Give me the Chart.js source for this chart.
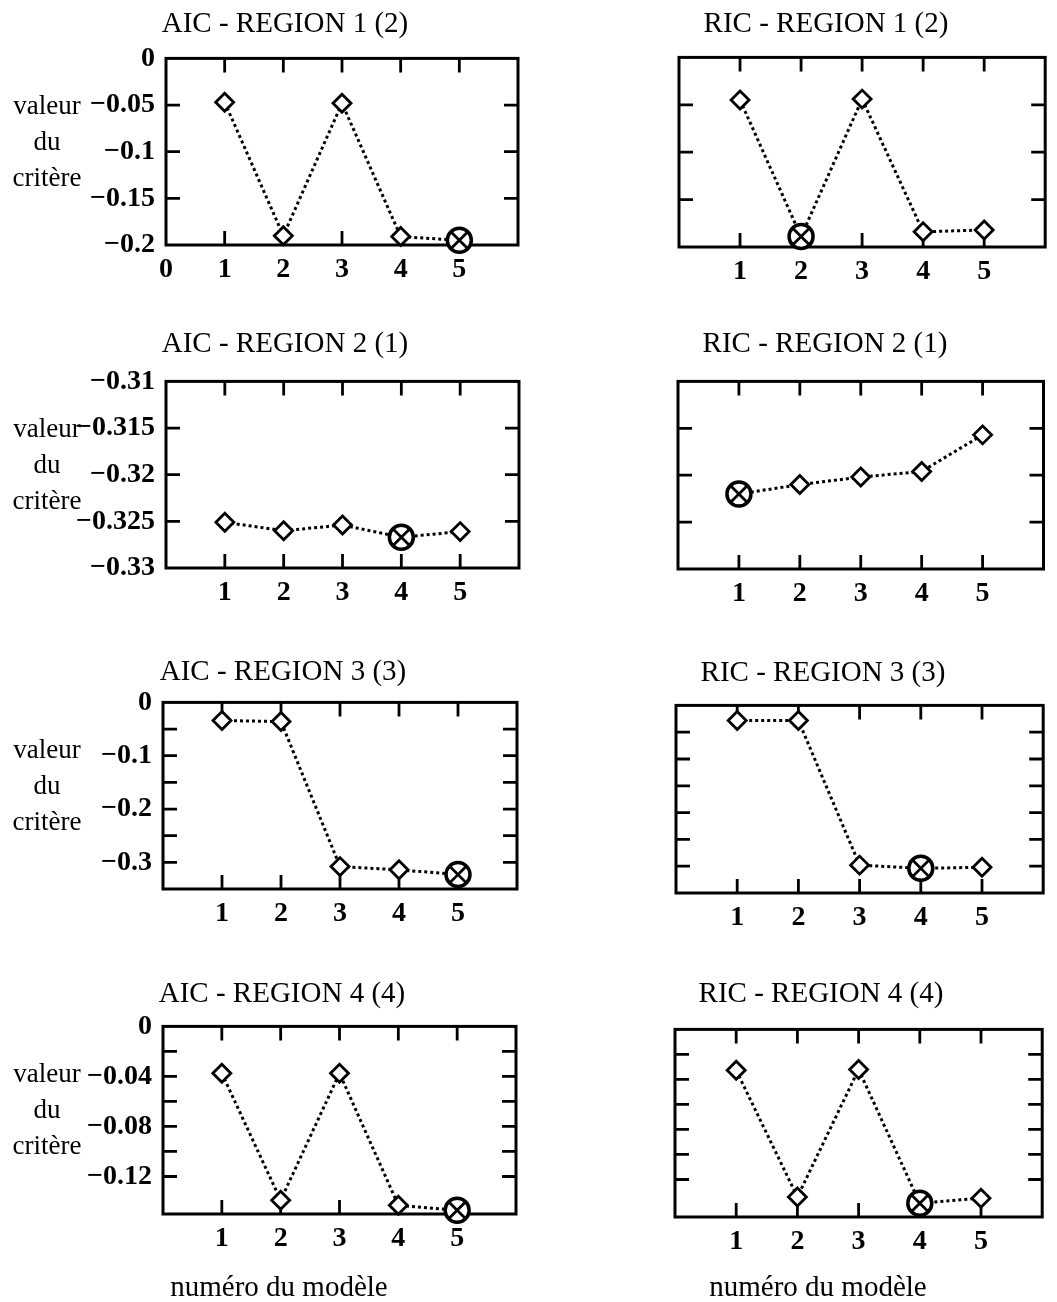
<!DOCTYPE html>
<html lang="fr">
<head>
<meta charset="utf-8">
<title>AIC / RIC par région</title>
<script src="https://cdn.jsdelivr.net/npm/chart.js@4.4.1/dist/chart.umd.min.js"></script>
<style>
  html, body { margin: 0; padding: 0; background: #fff; overflow: hidden; }
  body { position: relative; width: 1057px; height: 1302px; }
  canvas { position: absolute; display: block; }
</style>
</head>
<body>
<script>
// numéro du modèle (axe x)
const models = [1, 2, 3, 4, 5];
const xTickLabelsFirst = [0, 1, 2, 3, 4, 5];
const xTickLabels = [1, 2, 3, 4, 5];

// valeur du critère
const aicRegion1 = [-0.047, -0.190, -0.048, -0.191, -0.195];
const ricRegion1 = [-0.045, -0.189, -0.044, -0.184, -0.182];
const aicRegion2 = [-0.3251, -0.3260, -0.3254, -0.3267, -0.3261];
const ricRegion2 = [-0.3220, -0.3210, -0.3202, -0.3196, -0.3157];
const aicRegion3 = [-0.034, -0.036, -0.308, -0.314, -0.323];
const ricRegion3 = [-0.028, -0.028, -0.298, -0.304, -0.302];
const aicRegion4 = [-0.0375, -0.139, -0.0375, -0.143, -0.147];
const ricRegion4 = [-0.0327, -0.134, -0.032, -0.139, -0.135];

// étiquettes de l'axe y (les autres graduations restent sans texte)
const yLabelsRegion1 = [0, -0.05, -0.1, -0.15, -0.2];
const yLabelsRegion2 = [-0.31, -0.315, -0.32, -0.325, -0.33];
const yLabelsRegion3 = [0, -0.1, -0.2, -0.3];
const yLabelsRegion4 = [0, -0.04, -0.08, -0.12];

const sideLabel = ['valeur', 'du', 'critère'];
const xTitle = 'numéro du modèle';

const serif = '"Liberation Serif", "Times New Roman", serif';
Chart.defaults.font.family = serif;
Chart.defaults.color = '#000';

const fmt = v => String(Number(v.toFixed(4))).replace('-', '\u2212');
const has = (list, v) => list.some(l => Math.abs(l - v) < 1e-9);

// cadre fermé + graduations tournées vers l'intérieur, textes annexes
const framePlugin = {
    id: 'frame',
    beforeDatasetsDraw(chart) {
        const { ctx, chartArea: a, scales: { x, y } } = chart;
        const tick = 14;
        ctx.save();
        ctx.strokeStyle = '#000';
        ctx.lineWidth = 2.8;
        ctx.beginPath();
        x.ticks.forEach(t => {
            const px = x.getPixelForValue(t.value);
            if (px < a.left + 2 || px > a.right - 2) return;
            ctx.moveTo(px, a.top); ctx.lineTo(px, a.top + tick);
            ctx.moveTo(px, a.bottom); ctx.lineTo(px, a.bottom - tick);
        });
        y.ticks.forEach(t => {
            const py = y.getPixelForValue(t.value);
            if (py < a.top + 2 || py > a.bottom - 2) return;
            ctx.moveTo(a.left, py); ctx.lineTo(a.left + tick, py);
            ctx.moveTo(a.right, py); ctx.lineTo(a.right - tick, py);
        });
        ctx.stroke();
        ctx.lineWidth = 3;
        ctx.strokeRect(a.left, a.top, a.right - a.left, a.bottom - a.top);
        ctx.restore();
    },
    afterDraw(chart, args, opts) {
        const { ctx, chartArea: a } = chart;
        ctx.save();
        ctx.fillStyle = '#000';
        ctx.textAlign = 'center';
        ctx.textBaseline = 'middle';
        if (opts.side) {
            ctx.font = '27px ' + serif;
            [49, 85, 121].forEach((dy, i) => ctx.fillText(sideLabel[i], opts.sideX, a.top + dy));
        }
        if (opts.xTitle) {
            ctx.font = '29px ' + serif;
            ctx.fillText(opts.xTitle, opts.xTitleX, opts.xTitleY);
        }
        ctx.restore();
    }
};

const panels = [
    { title: 'AIC - REGION 1 (2)', values: aicRegion1, y: [-0.2, 0, 0.05], yLabels: yLabelsRegion1, xLabels: xTickLabelsFirst, side: true,
      box: { tc: 285, titleY: 24, left: 166, right: 518, top: 58, bottom: 245 } },
    { title: 'RIC - REGION 1 (2)', values: ricRegion1, y: [-0.2, 0, 0.05], yLabels: null, xLabels: xTickLabels, side: false,
      box: { tc: 826, titleY: 24, left: 679, right: 1056, top: 57, bottom: 247 } },
    { title: 'AIC - REGION 2 (1)', values: aicRegion2, y: [-0.33, -0.31, 0.005], yLabels: yLabelsRegion2, xLabels: xTickLabels, side: true,
      box: { tc: 285, titleY: 344, left: 166, right: 519, top: 381, bottom: 568 } },
    { title: 'RIC - REGION 2 (1)', values: ricRegion2, y: [-0.33, -0.31, 0.005], yLabels: null, xLabels: xTickLabels, side: false,
      box: { tc: 825, titleY: 344, left: 678, right: 1056, top: 381, bottom: 569 } },
    { title: 'AIC - REGION 3 (3)', values: aicRegion3, y: [-0.35, 0, 0.05], yLabels: yLabelsRegion3, xLabels: xTickLabels, side: true,
      box: { tc: 283, titleY: 672, left: 163, right: 517, top: 702, bottom: 889 } },
    { title: 'RIC - REGION 3 (3)', values: ricRegion3, y: [-0.35, 0, 0.05], yLabels: null, xLabels: xTickLabels, side: false,
      box: { tc: 823, titleY: 673, left: 676, right: 1054, top: 705, bottom: 893 } },
    { title: 'AIC - REGION 4 (4)', values: aicRegion4, y: [-0.15, 0, 0.02], yLabels: yLabelsRegion4, xLabels: xTickLabels, side: true, last: true,
      box: { tc: 282, titleY: 994, left: 163, right: 516, top: 1026, bottom: 1214 } },
    { title: 'RIC - REGION 4 (4)', values: ricRegion4, y: [-0.15, 0, 0.02], yLabels: null, xLabels: xTickLabels, side: false, last: true,
      box: { tc: 821, titleY: 994, left: 675, right: 1053, top: 1029, bottom: 1217 } },
];

panels.forEach(p => {
    const b = p.box;
    // position du canvas pour que le titre soit centré en b.tc
    let cl, cw, rW;
    if (p.side) {
        cl = 0; cw = 2 * b.tc; rW = cw - b.right;
    } else {
        rW = 3; cw = 2 * (b.right + rW - b.tc); cl = b.tc - cw / 2;
    }
    const titleSize = 29;
    const titleLine = titleSize * 1.2;
    const ct = b.titleY - titleLine / 2 - 4;
    const xH = p.last ? 1302 - b.bottom : 55;
    const ch = b.bottom + xH - ct;
    const titleBottom = b.top - b.titleY - titleLine / 2;

    const canvas = document.createElement('canvas');
    canvas.width = cw; canvas.height = ch;
    canvas.style.left = cl + 'px'; canvas.style.top = ct + 'px';
    canvas.style.width = cw + 'px'; canvas.style.height = ch + 'px';
    document.body.appendChild(canvas);

    const best = p.values.indexOf(Math.min(...p.values));
    const points = models.map((m, i) => ({ x: m, y: p.values[i] }));

    new Chart(canvas, {
        type: 'line',
        data: {
            datasets: [{
                // croix dans le cercle du modèle retenu
                order: 0,
                data: points.map((pt, i) => i === best ? pt : { x: pt.x, y: null }),
                showLine: false,
                pointStyle: 'crossRot',
                pointRadius: 11,
                pointBorderWidth: 2.8,
                pointBorderColor: '#000',
                clip: false
            }, {
                order: 1,
                data: points,
                borderColor: '#000',
                borderWidth: 3,
                borderDash: [3, 3],
                tension: 0,
                fill: false,
                pointStyle: points.map((pt, i) => i === best ? 'circle' : 'rectRot'),
                pointRadius: points.map((pt, i) => i === best ? 12 : 9),
                pointBorderWidth: points.map((pt, i) => i === best ? 3.5 : 2.8),
                pointBackgroundColor: '#fff',
                pointBorderColor: '#000',
                clip: false
            }]
        },
        options: {
            responsive: false,
            animation: false,
            events: [],
            layout: { padding: 0 },
            plugins: {
                legend: { display: false },
                tooltip: { enabled: false },
                title: {
                    display: true,
                    text: p.title,
                    color: '#000',
                    font: { size: titleSize, weight: 'normal', family: serif },
                    padding: { top: 4, bottom: titleBottom }
                },
                frame: {
                    side: p.side,
                    sideX: 47 - cl,
                    xTitle: p.last ? xTitle : null,
                    xTitleX: b.tc - 3 - cl,
                    xTitleY: 1288 - ct
                }
            },
            scales: {
                x: {
                    type: 'linear',
                    min: 0,
                    max: 6,
                    grid: { display: false, drawTicks: false },
                    border: { display: false },
                    ticks: {
                        stepSize: 1,
                        autoSkip: false,
                        maxRotation: 0,
                        padding: 8,
                        font: { size: 28, weight: 'bold' },
                        callback: v => has(p.xLabels, v) ? String(v) : ''
                    },
                    afterFit: s => { s.height = xH; }
                },
                y: {
                    type: 'linear',
                    position: 'left',
                    min: p.y[0],
                    max: p.y[1],
                    grid: { display: false, drawTicks: false },
                    border: { display: false },
                    ticks: {
                        display: !!p.yLabels,
                        stepSize: p.y[2],
                        autoSkip: false,
                        padding: 11,
                        font: { size: 28, weight: 'bold' },
                        callback: v => (p.yLabels && has(p.yLabels, v)) ? fmt(v) : ''
                    },
                    afterFit: s => { s.width = b.left - cl; }
                },
                yR: {
                    type: 'linear',
                    position: 'right',
                    grid: { display: false, drawTicks: false },
                    border: { display: false },
                    ticks: { display: false },
                    afterFit: s => { s.width = rW; }
                }
            }
        },
        plugins: [framePlugin]
    });
});
</script>
</body>
</html>
